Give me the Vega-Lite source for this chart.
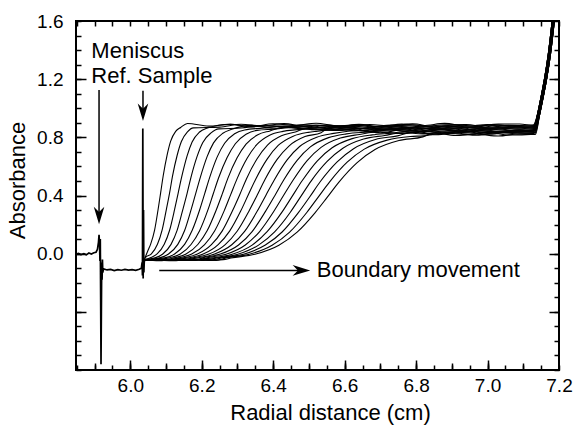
{
"$schema": "https://vega.github.io/schema/vega-lite/v6.json",
"width": 483, "height": 349,
"autosize": {"type": "none"},
"padding": {"left": 76, "top": 21, "right": 19, "bottom": 57},
"config": {
 "view": {"stroke": "black", "strokeWidth": 2},
 "font": "Liberation Sans",
 "axis": {"domain": false, "grid": false, "tickColor": "black", "tickWidth": 1.5, "labelColor": "black", "titleColor": "black", "labelFont": "Liberation Sans", "titleFont": "Liberation Sans", "labelFontSize": 19, "titleFontSize": 22, "titleFontWeight": "normal", "labelFlush": false, "labelOverlap": false}
},
"datasets": {
"curves": [
{"c":0,"x":6.040,"y":-0.035},{"c":0,"x":6.050,"y":0.025},{"c":0,"x":6.057,"y":0.066},{"c":0,"x":6.068,"y":0.162},{"c":0,"x":6.078,"y":0.307},{"c":0,"x":6.085,"y":0.42},{"c":0,"x":6.092,"y":0.534},{"c":0,"x":6.103,"y":0.678},{"c":0,"x":6.113,"y":0.774},{"c":0,"x":6.127,"y":0.841},{"c":0,"x":6.141,"y":0.868},
{"c":0,"x":6.16,"y":0.895},{"c":0,"x":6.22,"y":0.877},{"c":0,"x":6.28,"y":0.889},{"c":0,"x":6.34,"y":0.873},{"c":0,"x":6.40,"y":0.893},{"c":0,"x":6.46,"y":0.882},{"c":0,"x":6.52,"y":0.897},{"c":0,"x":6.58,"y":0.879},{"c":0,"x":6.64,"y":0.887},{"c":0,"x":6.70,"y":0.875},{"c":0,"x":6.76,"y":0.891},{"c":0,"x":6.82,"y":0.881},{"c":0,"x":6.88,"y":0.896},{"c":0,"x":6.94,"y":0.876},{"c":0,"x":7.00,"y":0.888},{"c":0,"x":7.06,"y":0.880},
{"c":0,"x":7.128,"y":0.885},{"c":0,"x":7.14,"y":0.96},{"c":0,"x":7.15,"y":1.08},{"c":0,"x":7.16,"y":1.21},{"c":0,"x":7.17,"y":1.37},{"c":0,"x":7.18,"y":1.58},{"c":0,"x":7.19,"y":1.84},

{"c":1,"x":6.039,"y":-0.040},{"c":1,"x":6.042,"y":-0.028},{"c":1,"x":6.059,"y":-0.001},{"c":1,"x":6.076,"y":0.065},{"c":1,"x":6.089,"y":0.162},{"c":1,"x":6.101,"y":0.305},{"c":1,"x":6.110,"y":0.418},{"c":1,"x":6.118,"y":0.531},{"c":1,"x":6.131,"y":0.675},{"c":1,"x":6.143,"y":0.771},{"c":1,"x":6.160,"y":0.838},{"c":1,"x":6.177,"y":0.865},
{"c":1,"x":6.25,"y":0.870},{"c":1,"x":6.31,"y":0.890},{"c":1,"x":6.37,"y":0.879},{"c":1,"x":6.43,"y":0.894},{"c":1,"x":6.49,"y":0.876},{"c":1,"x":6.55,"y":0.884},{"c":1,"x":6.61,"y":0.872},{"c":1,"x":6.67,"y":0.888},{"c":1,"x":6.73,"y":0.878},{"c":1,"x":6.79,"y":0.893},{"c":1,"x":6.85,"y":0.873},{"c":1,"x":6.91,"y":0.885},{"c":1,"x":6.97,"y":0.877},{"c":1,"x":7.03,"y":0.891},{"c":1,"x":7.09,"y":0.892},
{"c":1,"x":7.130,"y":0.882},{"c":1,"x":7.142,"y":0.96},{"c":1,"x":7.152,"y":1.08},{"c":1,"x":7.162,"y":1.21},{"c":1,"x":7.172,"y":1.37},{"c":1,"x":7.182,"y":1.58},{"c":1,"x":7.192,"y":1.84},

{"c":2,"x":6.040,"y":-0.042},{"c":2,"x":6.056,"y":-0.028},{"c":2,"x":6.075,"y":-0.002},{"c":2,"x":6.095,"y":0.065},{"c":2,"x":6.110,"y":0.161},{"c":2,"x":6.124,"y":0.304},{"c":2,"x":6.134,"y":0.417},{"c":2,"x":6.144,"y":0.529},{"c":2,"x":6.159,"y":0.672},{"c":2,"x":6.173,"y":0.768},{"c":2,"x":6.193,"y":0.835},{"c":2,"x":6.212,"y":0.861},
{"c":2,"x":6.28,"y":0.890},{"c":2,"x":6.34,"y":0.872},{"c":2,"x":6.40,"y":0.880},{"c":2,"x":6.46,"y":0.868},{"c":2,"x":6.52,"y":0.884},{"c":2,"x":6.58,"y":0.874},{"c":2,"x":6.64,"y":0.889},{"c":2,"x":6.70,"y":0.869},{"c":2,"x":6.76,"y":0.881},{"c":2,"x":6.82,"y":0.873},{"c":2,"x":6.88,"y":0.887},{"c":2,"x":6.94,"y":0.888},{"c":2,"x":7.00,"y":0.870},{"c":2,"x":7.06,"y":0.882},
{"c":2,"x":7.132,"y":0.878},{"c":2,"x":7.144,"y":0.96},{"c":2,"x":7.154,"y":1.08},{"c":2,"x":7.164,"y":1.21},{"c":2,"x":7.174,"y":1.37},{"c":2,"x":7.184,"y":1.58},{"c":2,"x":7.194,"y":1.84},

{"c":3,"x":6.040,"y":-0.040},{"c":3,"x":6.069,"y":-0.029},{"c":3,"x":6.091,"y":-0.002},{"c":3,"x":6.114,"y":0.064},{"c":3,"x":6.131,"y":0.160},{"c":3,"x":6.147,"y":0.303},{"c":3,"x":6.159,"y":0.415},{"c":3,"x":6.170,"y":0.527},{"c":3,"x":6.187,"y":0.669},{"c":3,"x":6.203,"y":0.765},{"c":3,"x":6.226,"y":0.831},{"c":3,"x":6.248,"y":0.858},
{"c":3,"x":6.31,"y":0.864},{"c":3,"x":6.37,"y":0.881},{"c":3,"x":6.43,"y":0.871},{"c":3,"x":6.49,"y":0.886},{"c":3,"x":6.55,"y":0.866},{"c":3,"x":6.61,"y":0.878},{"c":3,"x":6.67,"y":0.870},{"c":3,"x":6.73,"y":0.884},{"c":3,"x":6.79,"y":0.885},{"c":3,"x":6.85,"y":0.867},{"c":3,"x":6.91,"y":0.879},{"c":3,"x":6.97,"y":0.863},{"c":3,"x":7.03,"y":0.883},{"c":3,"x":7.09,"y":0.872},
{"c":3,"x":7.134,"y":0.875},{"c":3,"x":7.146,"y":0.96},{"c":3,"x":7.156,"y":1.08},{"c":3,"x":7.166,"y":1.21},{"c":3,"x":7.176,"y":1.37},{"c":3,"x":7.186,"y":1.58},{"c":3,"x":7.196,"y":1.84},

{"c":4,"x":6.040,"y":-0.044},{"c":4,"x":6.082,"y":-0.029},{"c":4,"x":6.107,"y":-0.002},{"c":4,"x":6.133,"y":0.064},{"c":4,"x":6.152,"y":0.159},{"c":4,"x":6.170,"y":0.301},{"c":4,"x":6.183,"y":0.413},{"c":4,"x":6.196,"y":0.525},{"c":4,"x":6.215,"y":0.667},{"c":4,"x":6.233,"y":0.762},{"c":4,"x":6.259,"y":0.828},{"c":4,"x":6.284,"y":0.855},
{"c":4,"x":6.34,"y":0.882},{"c":4,"x":6.40,"y":0.862},{"c":4,"x":6.46,"y":0.874},{"c":4,"x":6.52,"y":0.866},{"c":4,"x":6.58,"y":0.880},{"c":4,"x":6.64,"y":0.881},{"c":4,"x":6.70,"y":0.863},{"c":4,"x":6.76,"y":0.875},{"c":4,"x":6.82,"y":0.859},{"c":4,"x":6.88,"y":0.879},{"c":4,"x":6.94,"y":0.868},{"c":4,"x":7.00,"y":0.883},{"c":4,"x":7.06,"y":0.865},
{"c":4,"x":7.128,"y":0.871},{"c":4,"x":7.14,"y":0.96},{"c":4,"x":7.15,"y":1.08},{"c":4,"x":7.16,"y":1.21},{"c":4,"x":7.17,"y":1.37},{"c":4,"x":7.18,"y":1.58},{"c":4,"x":7.19,"y":1.84},

{"c":5,"x":6.040,"y":-0.041},{"c":5,"x":6.096,"y":-0.029},{"c":5,"x":6.124,"y":-0.002},{"c":5,"x":6.152,"y":0.064},{"c":5,"x":6.173,"y":0.159},{"c":5,"x":6.194,"y":0.300},{"c":5,"x":6.208,"y":0.411},{"c":5,"x":6.222,"y":0.523},{"c":5,"x":6.243,"y":0.664},{"c":5,"x":6.264,"y":0.759},{"c":5,"x":6.292,"y":0.825},{"c":5,"x":6.320,"y":0.851},
{"c":5,"x":6.37,"y":0.863},{"c":5,"x":6.43,"y":0.877},{"c":5,"x":6.49,"y":0.878},{"c":5,"x":6.55,"y":0.860},{"c":5,"x":6.61,"y":0.872},{"c":5,"x":6.67,"y":0.856},{"c":5,"x":6.73,"y":0.876},{"c":5,"x":6.79,"y":0.865},{"c":5,"x":6.85,"y":0.880},{"c":5,"x":6.91,"y":0.862},{"c":5,"x":6.97,"y":0.870},{"c":5,"x":7.03,"y":0.858},{"c":5,"x":7.09,"y":0.874},
{"c":5,"x":7.130,"y":0.868},{"c":5,"x":7.142,"y":0.96},{"c":5,"x":7.152,"y":1.08},{"c":5,"x":7.162,"y":1.21},{"c":5,"x":7.172,"y":1.37},{"c":5,"x":7.182,"y":1.58},{"c":5,"x":7.192,"y":1.84},

{"c":6,"x":6.040,"y":-0.045},{"c":6,"x":6.080,"y":-0.040},{"c":6,"x":6.109,"y":-0.029},{"c":6,"x":6.140,"y":-0.002},{"c":6,"x":6.170,"y":0.063},{"c":6,"x":6.194,"y":0.158},{"c":6,"x":6.217,"y":0.299},{"c":6,"x":6.232,"y":0.410},{"c":6,"x":6.247,"y":0.520},{"c":6,"x":6.271,"y":0.661},{"c":6,"x":6.294,"y":0.756},{"c":6,"x":6.324,"y":0.821},{"c":6,"x":6.355,"y":0.848},
{"c":6,"x":6.40,"y":0.856},{"c":6,"x":6.46,"y":0.868},{"c":6,"x":6.52,"y":0.852},{"c":6,"x":6.58,"y":0.872},{"c":6,"x":6.64,"y":0.861},{"c":6,"x":6.70,"y":0.876},{"c":6,"x":6.76,"y":0.858},{"c":6,"x":6.82,"y":0.866},{"c":6,"x":6.88,"y":0.854},{"c":6,"x":6.94,"y":0.870},{"c":6,"x":7.00,"y":0.860},{"c":6,"x":7.06,"y":0.875},
{"c":6,"x":7.132,"y":0.864},{"c":6,"x":7.144,"y":0.96},{"c":6,"x":7.154,"y":1.08},{"c":6,"x":7.164,"y":1.21},{"c":6,"x":7.174,"y":1.37},{"c":6,"x":7.184,"y":1.58},{"c":6,"x":7.194,"y":1.84},

{"c":7,"x":6.040,"y":-0.042},{"c":7,"x":6.090,"y":-0.047},{"c":7,"x":6.122,"y":-0.029},{"c":7,"x":6.156,"y":-0.003},{"c":7,"x":6.189,"y":0.063},{"c":7,"x":6.215,"y":0.157},{"c":7,"x":6.240,"y":0.297},{"c":7,"x":6.257,"y":0.408},{"c":7,"x":6.273,"y":0.518},{"c":7,"x":6.299,"y":0.659},{"c":7,"x":6.324,"y":0.753},{"c":7,"x":6.357,"y":0.818},{"c":7,"x":6.391,"y":0.844},
{"c":7,"x":6.43,"y":0.869},{"c":7,"x":6.49,"y":0.858},{"c":7,"x":6.55,"y":0.873},{"c":7,"x":6.61,"y":0.855},{"c":7,"x":6.67,"y":0.863},{"c":7,"x":6.73,"y":0.851},{"c":7,"x":6.79,"y":0.867},{"c":7,"x":6.85,"y":0.857},{"c":7,"x":6.91,"y":0.872},{"c":7,"x":6.97,"y":0.852},{"c":7,"x":7.03,"y":0.864},{"c":7,"x":7.09,"y":0.856},
{"c":7,"x":7.134,"y":0.861},{"c":7,"x":7.146,"y":0.96},{"c":7,"x":7.156,"y":1.08},{"c":7,"x":7.166,"y":1.21},{"c":7,"x":7.176,"y":1.37},{"c":7,"x":7.186,"y":1.58},{"c":7,"x":7.196,"y":1.84},

{"c":8,"x":6.040,"y":-0.040},{"c":8,"x":6.080,"y":-0.046},{"c":8,"x":6.120,"y":-0.041},{"c":8,"x":6.135,"y":-0.029},{"c":8,"x":6.172,"y":-0.003},{"c":8,"x":6.208,"y":0.062},{"c":8,"x":6.236,"y":0.156},{"c":8,"x":6.263,"y":0.296},{"c":8,"x":6.281,"y":0.406},{"c":8,"x":6.299,"y":0.516},{"c":8,"x":6.327,"y":0.656},{"c":8,"x":6.354,"y":0.750},{"c":8,"x":6.390,"y":0.815},{"c":8,"x":6.427,"y":0.841},
{"c":8,"x":6.46,"y":0.851},{"c":8,"x":6.52,"y":0.859},{"c":8,"x":6.58,"y":0.847},{"c":8,"x":6.64,"y":0.863},{"c":8,"x":6.70,"y":0.853},{"c":8,"x":6.76,"y":0.868},{"c":8,"x":6.82,"y":0.848},{"c":8,"x":6.88,"y":0.860},{"c":8,"x":6.94,"y":0.852},{"c":8,"x":7.00,"y":0.866},{"c":8,"x":7.06,"y":0.867},
{"c":8,"x":7.128,"y":0.857},{"c":8,"x":7.14,"y":0.96},{"c":8,"x":7.15,"y":1.08},{"c":8,"x":7.16,"y":1.21},{"c":8,"x":7.17,"y":1.37},{"c":8,"x":7.18,"y":1.58},{"c":8,"x":7.19,"y":1.84},

{"c":9,"x":6.040,"y":-0.045},{"c":9,"x":6.090,"y":-0.041},{"c":9,"x":6.149,"y":-0.029},{"c":9,"x":6.188,"y":-0.003},{"c":9,"x":6.227,"y":0.062},{"c":9,"x":6.257,"y":0.155},{"c":9,"x":6.286,"y":0.295},{"c":9,"x":6.306,"y":0.404},{"c":9,"x":6.325,"y":0.514},{"c":9,"x":6.355,"y":0.653},{"c":9,"x":6.384,"y":0.747},{"c":9,"x":6.423,"y":0.811},{"c":9,"x":6.462,"y":0.837},
{"c":9,"x":6.49,"y":0.860},{"c":9,"x":6.55,"y":0.850},{"c":9,"x":6.61,"y":0.865},{"c":9,"x":6.67,"y":0.845},{"c":9,"x":6.73,"y":0.857},{"c":9,"x":6.79,"y":0.849},{"c":9,"x":6.85,"y":0.863},{"c":9,"x":6.91,"y":0.864},{"c":9,"x":6.97,"y":0.846},{"c":9,"x":7.03,"y":0.858},{"c":9,"x":7.09,"y":0.842},
{"c":9,"x":7.130,"y":0.854},{"c":9,"x":7.142,"y":0.96},{"c":9,"x":7.152,"y":1.08},{"c":9,"x":7.162,"y":1.21},{"c":9,"x":7.172,"y":1.37},{"c":9,"x":7.182,"y":1.58},{"c":9,"x":7.192,"y":1.84},

{"c":10,"x":6.040,"y":-0.041},{"c":10,"x":6.080,"y":-0.047},{"c":10,"x":6.120,"y":-0.042},{"c":10,"x":6.162,"y":-0.029},{"c":10,"x":6.204,"y":-0.003},{"c":10,"x":6.246,"y":0.062},{"c":10,"x":6.278,"y":0.155},{"c":10,"x":6.309,"y":0.293},{"c":10,"x":6.330,"y":0.403},{"c":10,"x":6.351,"y":0.512},{"c":10,"x":6.383,"y":0.650},{"c":10,"x":6.414,"y":0.744},{"c":10,"x":6.456,"y":0.808},{"c":10,"x":6.498,"y":0.834},
{"c":10,"x":6.52,"y":0.841},{"c":10,"x":6.58,"y":0.853},{"c":10,"x":6.64,"y":0.845},{"c":10,"x":6.70,"y":0.859},{"c":10,"x":6.76,"y":0.860},{"c":10,"x":6.82,"y":0.842},{"c":10,"x":6.88,"y":0.854},{"c":10,"x":6.94,"y":0.838},{"c":10,"x":7.00,"y":0.858},{"c":10,"x":7.06,"y":0.847},
{"c":10,"x":7.132,"y":0.850},{"c":10,"x":7.144,"y":0.96},{"c":10,"x":7.154,"y":1.08},{"c":10,"x":7.164,"y":1.21},{"c":10,"x":7.174,"y":1.37},{"c":10,"x":7.184,"y":1.58},{"c":10,"x":7.194,"y":1.84},

{"c":11,"x":6.040,"y":-0.044},{"c":11,"x":6.090,"y":-0.040},{"c":11,"x":6.140,"y":-0.046},{"c":11,"x":6.175,"y":-0.029},{"c":11,"x":6.220,"y":-0.003},{"c":11,"x":6.265,"y":0.061},{"c":11,"x":6.299,"y":0.154},{"c":11,"x":6.332,"y":0.292},{"c":11,"x":6.355,"y":0.401},{"c":11,"x":6.377,"y":0.510},{"c":11,"x":6.411,"y":0.648},{"c":11,"x":6.444,"y":0.740},{"c":11,"x":6.489,"y":0.805},{"c":11,"x":6.534,"y":0.831},
{"c":11,"x":6.55,"y":0.856},{"c":11,"x":6.61,"y":0.857},{"c":11,"x":6.67,"y":0.839},{"c":11,"x":6.73,"y":0.851},{"c":11,"x":6.79,"y":0.835},{"c":11,"x":6.85,"y":0.855},{"c":11,"x":6.91,"y":0.844},{"c":11,"x":6.97,"y":0.859},{"c":11,"x":7.03,"y":0.841},{"c":11,"x":7.09,"y":0.849},
{"c":11,"x":7.134,"y":0.847},{"c":11,"x":7.146,"y":0.96},{"c":11,"x":7.156,"y":1.08},{"c":11,"x":7.166,"y":1.21},{"c":11,"x":7.176,"y":1.37},{"c":11,"x":7.186,"y":1.58},{"c":11,"x":7.196,"y":1.84},

{"c":12,"x":6.040,"y":-0.046},{"c":12,"x":6.080,"y":-0.041},{"c":12,"x":6.120,"y":-0.045},{"c":12,"x":6.160,"y":-0.040},{"c":12,"x":6.189,"y":-0.029},{"c":12,"x":6.236,"y":-0.003},{"c":12,"x":6.284,"y":0.061},{"c":12,"x":6.320,"y":0.153},{"c":12,"x":6.355,"y":0.291},{"c":12,"x":6.379,"y":0.399},{"c":12,"x":6.403,"y":0.507},{"c":12,"x":6.439,"y":0.645},{"c":12,"x":6.474,"y":0.737},{"c":12,"x":6.522,"y":0.801},{"c":12,"x":6.569,"y":0.827},
{"c":12,"x":6.64,"y":0.847},{"c":12,"x":6.70,"y":0.831},{"c":12,"x":6.76,"y":0.851},{"c":12,"x":6.82,"y":0.840},{"c":12,"x":6.88,"y":0.855},{"c":12,"x":6.94,"y":0.837},{"c":12,"x":7.00,"y":0.845},{"c":12,"x":7.06,"y":0.833},
{"c":12,"x":7.128,"y":0.843},{"c":12,"x":7.14,"y":0.96},{"c":12,"x":7.15,"y":1.08},{"c":12,"x":7.16,"y":1.21},{"c":12,"x":7.17,"y":1.37},{"c":12,"x":7.18,"y":1.58},{"c":12,"x":7.19,"y":1.84},

{"c":13,"x":6.040,"y":-0.040},{"c":13,"x":6.090,"y":-0.045},{"c":13,"x":6.140,"y":-0.042},{"c":13,"x":6.180,"y":-0.047},{"c":13,"x":6.202,"y":-0.029},{"c":13,"x":6.252,"y":-0.003},{"c":13,"x":6.303,"y":0.060},{"c":13,"x":6.341,"y":0.152},{"c":13,"x":6.378,"y":0.289},{"c":13,"x":6.404,"y":0.397},{"c":13,"x":6.429,"y":0.505},{"c":13,"x":6.467,"y":0.642},{"c":13,"x":6.504,"y":0.734},{"c":13,"x":6.555,"y":0.798},{"c":13,"x":6.605,"y":0.824},
{"c":13,"x":6.67,"y":0.837},{"c":13,"x":6.73,"y":0.852},{"c":13,"x":6.79,"y":0.834},{"c":13,"x":6.85,"y":0.842},{"c":13,"x":6.91,"y":0.830},{"c":13,"x":6.97,"y":0.846},{"c":13,"x":7.03,"y":0.836},{"c":13,"x":7.09,"y":0.851},
{"c":13,"x":7.130,"y":0.840},{"c":13,"x":7.142,"y":0.96},{"c":13,"x":7.152,"y":1.08},{"c":13,"x":7.162,"y":1.21},{"c":13,"x":7.172,"y":1.37},{"c":13,"x":7.182,"y":1.58},{"c":13,"x":7.192,"y":1.84},

{"c":14,"x":6.040,"y":-0.043},{"c":14,"x":6.080,"y":-0.048},{"c":14,"x":6.120,"y":-0.041},{"c":14,"x":6.160,"y":-0.046},{"c":14,"x":6.200,"y":-0.040},{"c":14,"x":6.215,"y":-0.029},{"c":14,"x":6.268,"y":-0.004},{"c":14,"x":6.322,"y":0.060},{"c":14,"x":6.362,"y":0.152},{"c":14,"x":6.401,"y":0.288},{"c":14,"x":6.428,"y":0.396},{"c":14,"x":6.455,"y":0.503},{"c":14,"x":6.495,"y":0.640},{"c":14,"x":6.534,"y":0.731},{"c":14,"x":6.588,"y":0.795},{"c":14,"x":6.641,"y":0.820},
{"c":14,"x":6.70,"y":0.838},{"c":14,"x":6.76,"y":0.826},{"c":14,"x":6.82,"y":0.842},{"c":14,"x":6.88,"y":0.832},{"c":14,"x":6.94,"y":0.847},{"c":14,"x":7.00,"y":0.827},{"c":14,"x":7.06,"y":0.839},
{"c":14,"x":7.132,"y":0.836},{"c":14,"x":7.144,"y":0.96},{"c":14,"x":7.154,"y":1.08},{"c":14,"x":7.164,"y":1.21},{"c":14,"x":7.174,"y":1.37},{"c":14,"x":7.184,"y":1.58},{"c":14,"x":7.194,"y":1.84},

{"c":15,"x":6.040,"y":-0.046},{"c":15,"x":6.090,"y":-0.041},{"c":15,"x":6.140,"y":-0.045},{"c":15,"x":6.180,"y":-0.040},{"c":15,"x":6.229,"y":-0.029},{"c":15,"x":6.285,"y":-0.004},{"c":15,"x":6.341,"y":0.059},{"c":15,"x":6.383,"y":0.151},{"c":15,"x":6.425,"y":0.287},{"c":15,"x":6.453,"y":0.394},{"c":15,"x":6.481,"y":0.501},{"c":15,"x":6.523,"y":0.637},{"c":15,"x":6.565,"y":0.728},{"c":15,"x":6.621,"y":0.791},{"c":15,"x":6.677,"y":0.817},
{"c":15,"x":6.73,"y":0.829},{"c":15,"x":6.79,"y":0.844},{"c":15,"x":6.85,"y":0.824},{"c":15,"x":6.91,"y":0.836},{"c":15,"x":6.97,"y":0.828},{"c":15,"x":7.03,"y":0.842},{"c":15,"x":7.09,"y":0.843},
{"c":15,"x":7.134,"y":0.833},{"c":15,"x":7.146,"y":0.96},{"c":15,"x":7.156,"y":1.08},{"c":15,"x":7.166,"y":1.21},{"c":15,"x":7.176,"y":1.37},{"c":15,"x":7.186,"y":1.58},{"c":15,"x":7.196,"y":1.84},

{"c":16,"x":6.040,"y":-0.041},{"c":16,"x":6.080,"y":-0.045},{"c":16,"x":6.120,"y":-0.049},{"c":16,"x":6.160,"y":-0.042},{"c":16,"x":6.200,"y":-0.046},{"c":16,"x":6.242,"y":-0.029},{"c":16,"x":6.301,"y":-0.004},{"c":16,"x":6.359,"y":0.059},{"c":16,"x":6.404,"y":0.150},{"c":16,"x":6.448,"y":0.285},{"c":16,"x":6.477,"y":0.392},{"c":16,"x":6.506,"y":0.499},{"c":16,"x":6.551,"y":0.634},{"c":16,"x":6.595,"y":0.725},{"c":16,"x":6.653,"y":0.788},{"c":16,"x":6.712,"y":0.813},
{"c":16,"x":6.76,"y":0.832},{"c":16,"x":6.82,"y":0.824},{"c":16,"x":6.88,"y":0.838},{"c":16,"x":6.94,"y":0.839},{"c":16,"x":7.00,"y":0.821},{"c":16,"x":7.06,"y":0.833},
{"c":16,"x":7.128,"y":0.829},{"c":16,"x":7.14,"y":0.96},{"c":16,"x":7.15,"y":1.08},{"c":16,"x":7.16,"y":1.21},{"c":16,"x":7.17,"y":1.37},{"c":16,"x":7.18,"y":1.58},{"c":16,"x":7.19,"y":1.84},

{"c":17,"x":6.040,"y":-0.045},{"c":17,"x":6.090,"y":-0.040},{"c":17,"x":6.140,"y":-0.046},{"c":17,"x":6.180,"y":-0.041},{"c":17,"x":6.220,"y":-0.047},{"c":17,"x":6.255,"y":-0.029},{"c":17,"x":6.317,"y":-0.004},{"c":17,"x":6.378,"y":0.059},{"c":17,"x":6.425,"y":0.149},{"c":17,"x":6.471,"y":0.284},{"c":17,"x":6.502,"y":0.390},{"c":17,"x":6.532,"y":0.496},{"c":17,"x":6.579,"y":0.631},{"c":17,"x":6.625,"y":0.722},{"c":17,"x":6.686,"y":0.785},{"c":17,"x":6.748,"y":0.810},
{"c":17,"x":6.79,"y":0.836},{"c":17,"x":6.85,"y":0.818},{"c":17,"x":6.91,"y":0.830},{"c":17,"x":6.97,"y":0.814},{"c":17,"x":7.03,"y":0.834},{"c":17,"x":7.09,"y":0.823},
{"c":17,"x":7.130,"y":0.826},{"c":17,"x":7.142,"y":0.96},{"c":17,"x":7.152,"y":1.08},{"c":17,"x":7.162,"y":1.21},{"c":17,"x":7.172,"y":1.37},{"c":17,"x":7.182,"y":1.58},{"c":17,"x":7.192,"y":1.84},

{"c":18,"x":6.040,"y":-0.042},{"c":18,"x":6.080,"y":-0.047},{"c":18,"x":6.120,"y":-0.041},{"c":18,"x":6.160,"y":-0.045},{"c":18,"x":6.200,"y":-0.040},{"c":18,"x":6.240,"y":-0.046},{"c":18,"x":6.268,"y":-0.029},{"c":18,"x":6.333,"y":-0.004},{"c":18,"x":6.397,"y":0.058},{"c":18,"x":6.446,"y":0.148},{"c":18,"x":6.494,"y":0.283},{"c":18,"x":6.526,"y":0.389},{"c":18,"x":6.558,"y":0.494},{"c":18,"x":6.607,"y":0.629},{"c":18,"x":6.655,"y":0.719},{"c":18,"x":6.719,"y":0.781},{"c":18,"x":6.784,"y":0.806},
{"c":18,"x":6.82,"y":0.810},{"c":18,"x":6.88,"y":0.830},{"c":18,"x":6.94,"y":0.819},{"c":18,"x":7.00,"y":0.834},{"c":18,"x":7.06,"y":0.816},
{"c":18,"x":7.132,"y":0.822},{"c":18,"x":7.144,"y":0.96},{"c":18,"x":7.154,"y":1.08},{"c":18,"x":7.164,"y":1.21},{"c":18,"x":7.174,"y":1.37},{"c":18,"x":7.184,"y":1.58},{"c":18,"x":7.194,"y":1.84},

{"c":19,"x":6.040,"y":-0.047},{"c":19,"x":6.090,"y":-0.042},{"c":19,"x":6.140,"y":-0.045},{"c":19,"x":6.180,"y":-0.040},{"c":19,"x":6.220,"y":-0.046},{"c":19,"x":6.260,"y":-0.041},{"c":19,"x":6.282,"y":-0.030},{"c":19,"x":6.349,"y":-0.004},{"c":19,"x":6.416,"y":0.058},{"c":19,"x":6.467,"y":0.148},{"c":19,"x":6.517,"y":0.281},{"c":19,"x":6.551,"y":0.387},{"c":19,"x":6.584,"y":0.492},{"c":19,"x":6.635,"y":0.626},{"c":19,"x":6.685,"y":0.716},{"c":19,"x":6.752,"y":0.778},{"c":19,"x":6.819,"y":0.803},
{"c":19,"x":6.85,"y":0.831},{"c":19,"x":6.91,"y":0.813},{"c":19,"x":6.97,"y":0.821},{"c":19,"x":7.03,"y":0.809},{"c":19,"x":7.09,"y":0.825},
{"c":19,"x":7.134,"y":0.819},{"c":19,"x":7.146,"y":0.96},{"c":19,"x":7.156,"y":1.08},{"c":19,"x":7.166,"y":1.21},{"c":19,"x":7.176,"y":1.37},{"c":19,"x":7.186,"y":1.58},{"c":19,"x":7.196,"y":1.84}
],
"left": [
{"x":5.848,"y":-0.004},{"x":5.855,"y":0.002},{"x":5.862,"y":-0.006},{"x":5.870,"y":0.000},{"x":5.877,"y":-0.008},{"x":5.884,"y":0.004},{"x":5.891,"y":-0.003},{"x":5.898,"y":0.006},{"x":5.904,"y":0.010},{"x":5.908,"y":0.030},{"x":5.911,"y":0.080},{"x":5.9125,"y":0.130},{"x":5.914,"y":0.060},{"x":5.915,"y":-0.050},{"x":5.916,"y":0.100},{"x":5.917,"y":-0.300},{"x":5.918,"y":-0.760},{"x":5.919,"y":-0.400},{"x":5.920,"y":-0.060},{"x":5.921,"y":-0.180},{"x":5.922,"y":-0.040},{"x":5.923,"y":-0.130},{"x":5.925,"y":-0.105},{"x":5.935,"y":-0.112},{"x":5.945,"y":-0.108},{"x":5.955,"y":-0.116},{"x":5.965,"y":-0.110},{"x":5.975,"y":-0.114},{"x":5.985,"y":-0.108},{"x":5.995,"y":-0.113},{"x":6.005,"y":-0.110},{"x":6.015,"y":-0.115},{"x":6.025,"y":-0.107},{"x":6.031,"y":-0.100},{"x":6.033,"y":-0.060},{"x":6.034,"y":-0.150},{"x":6.035,"y":0.860},{"x":6.036,"y":-0.170},{"x":6.037,"y":0.300},{"x":6.038,"y":-0.130},{"x":6.039,"y":-0.060},{"x":6.040,"y":-0.045}
],
"arrows": [
{"x":5.9125,"x2":5.9125,"y":1.126,"y2":0.28},
{"x":6.0355,"x2":6.0355,"y":1.12,"y2":0.99},
{"x":6.081,"x2":6.48,"y":-0.115,"y2":-0.115}
],
"heads": [
{"x":5.9125,"y":0.262,"d":"down"},
{"x":6.0355,"y":0.972,"d":"down"},
{"x":6.479,"y":-0.115,"d":"right"}
],
"labels": [
{"t":"Meniscus","x":5.891,"y":1.344},
{"t":"Ref. Sample","x":5.891,"y":1.177},
{"t":"Boundary movement","x":6.522,"y":-0.16}
]
},
"layer": [
{
 "data": {"name": "curves"},
 "mark": {"type": "line", "color": "black", "strokeWidth": 1.1, "clip": true, "interpolate": "monotone"},
 "encoding": {
  "x": {"field": "x", "type": "quantitative", "scale": {"domain": [5.848, 7.2], "nice": false, "zero": false},
   "axis": {"orient": "bottom", "values": [5.85,5.9,5.95,6,6.05,6.1,6.15,6.2,6.25,6.3,6.35,6.4,6.45,6.5,6.55,6.6,6.65,6.7,6.75,6.8,6.85,6.9,6.95,7,7.05,7.1,7.15,7.2], "tickSize": -5, "labelPadding": 11,
    "labelExpr": "(abs(datum.value*5 - round(datum.value*5)) < 0.01 && datum.value > 5.95) ? format(datum.value, '.1f') : ''",
    "title": "Radial distance (cm)", "titleX": 254, "titleY": 42, "titleBaseline": "middle", "titleAlign": "center"}},
  "y": {"field": "y", "type": "quantitative", "scale": {"domain": [-0.8, 1.6], "nice": false, "zero": false},
   "axis": {"orient": "left", "values": [-0.8,-0.7,-0.6,-0.5,-0.4,-0.3,-0.2,-0.1,0,0.1,0.2,0.3,0.4,0.5,0.6,0.7,0.8,0.9,1,1.1,1.2,1.3,1.4,1.5,1.6], "tickSize": -5, "labelPadding": 18,
    "labelExpr": "(datum.value > -0.01 && abs(datum.value*2.5 - round(datum.value*2.5)) < 0.01) ? format(datum.value, '.1f') : ''",
    "title": "Absorbance", "titleX": -59, "titleY": 159, "titleBaseline": "middle", "titleAlign": "center", "titleAngle": -90}},
  "detail": {"field": "c", "type": "nominal"}
 }
},
{
 "data": {"name": "left"},
 "mark": {"type": "line", "color": "black", "strokeWidth": 1.7, "clip": true},
 "encoding": {
  "x": {"field": "x", "type": "quantitative", "scale": {"domain": [5.848, 7.2], "nice": false, "zero": false},
   "axis": {"orient": "top", "values": [5.85,5.9,5.95,6,6.05,6.1,6.15,6.2,6.25,6.3,6.35,6.4,6.45,6.5,6.55,6.6,6.65,6.7,6.75,6.8,6.85,6.9,6.95,7,7.05,7.1,7.15,7.2], "tickSize": -5, "labels": false, "title": null}},
  "y": {"field": "y", "type": "quantitative", "scale": {"domain": [-0.8, 1.6], "nice": false, "zero": false},
   "axis": {"orient": "right", "values": [-0.8,-0.7,-0.6,-0.5,-0.4,-0.3,-0.2,-0.1,0,0.1,0.2,0.3,0.4,0.5,0.6,0.7,0.8,0.9,1,1.1,1.2,1.3,1.4,1.5,1.6], "tickSize": -5, "labels": false, "title": null}}
 }
},
{
 "data": {"name": "arrows"},
 "mark": {"type": "rule", "color": "black", "strokeWidth": 1.5},
 "encoding": {
  "x": {"field": "x", "type": "quantitative", "scale": {"domain": [5.848, 7.2], "nice": false, "zero": false},
   "axis": {"orient": "bottom", "values": [5.9,6,6.1,6.2,6.3,6.4,6.5,6.6,6.7,6.8,6.9,7,7.1], "tickSize": -7, "labels": false, "title": null}},
  "x2": {"field": "x2"},
  "y": {"field": "y", "type": "quantitative", "scale": {"domain": [-0.8, 1.6], "nice": false, "zero": false},
   "axis": {"orient": "left", "values": [-0.4,0,0.4,0.8,1.2], "tickSize": -10, "labels": false, "title": null}},
  "y2": {"field": "y2"}
 }
},
{
 "data": {"name": "heads"},
 "mark": {"type": "point", "filled": true, "color": "black", "opacity": 1, "size": 310},
 "encoding": {
  "x": {"field": "x", "type": "quantitative", "scale": {"domain": [5.848, 7.2], "nice": false, "zero": false},
   "axis": {"orient": "bottom", "values": [6,6.2,6.4,6.6,6.8,7], "tickSize": -10, "labels": false, "title": null}},
  "y": {"field": "y", "type": "quantitative", "scale": {"domain": [-0.8, 1.6], "nice": false, "zero": false},
   "axis": {"orient": "right", "values": [-0.4,0,0.4,0.8,1.2], "tickSize": -10, "labels": false, "title": null}},
  "shape": {"field": "d", "type": "nominal", "scale": {"domain": ["down", "right"], "range": ["M-0.6,-1L0,1L0.6,-1L0,-0.4Z", "M-1,-0.6L1,0L-1,0.6L-0.4,0Z"]}, "legend": null}
 }
},
{
 "data": {"name": "labels"},
 "mark": {"type": "text", "align": "left", "baseline": "alphabetic", "font": "Liberation Sans", "fontSize": 22, "color": "black"},
 "encoding": {
  "x": {"field": "x", "type": "quantitative", "scale": {"domain": [5.848, 7.2], "nice": false, "zero": false}, "axis": null},
  "y": {"field": "y", "type": "quantitative", "scale": {"domain": [-0.8, 1.6], "nice": false, "zero": false}, "axis": null},
  "text": {"field": "t"}
 }
}
],
"resolve": {"axis": {"x": "independent", "y": "independent"}}
}
